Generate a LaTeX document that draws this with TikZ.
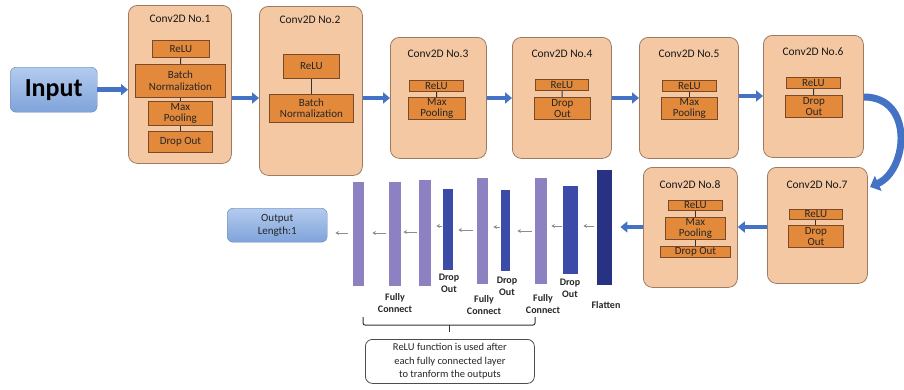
\documentclass[tikz,border=0pt]{standalone}
\usepackage{fontspec}
\setmainfont{Carlito}
\usetikzlibrary{arrows.meta,shapes.misc}
\definecolor{peach}{HTML}{F5C8A4}
\definecolor{peachdraw}{HTML}{9C7B62}
\definecolor{orng}{HTML}{E2893B}
\definecolor{orngdraw}{HTML}{7A4A28}
\definecolor{arrblue}{HTML}{4472C4}
\definecolor{inblueA}{HTML}{B4CBEE}
\definecolor{inblueB}{HTML}{7FA3DA}
\definecolor{fccol}{HTML}{8E81C2}
\definecolor{docol}{HTML}{3C4BA8}
\definecolor{flcol}{HTML}{273282}
\tikzset{
  bigbox/.style={draw=peachdraw, fill=peach, rounded corners=9pt, line width=0.8pt, anchor=north west, inner sep=0pt},
  ttl/.style={font=\fontsize{11.5}{12}\selectfont, text=black!90},
  ibox/.style={draw=orngdraw, fill=orng, line width=0.8pt, anchor=north west, inner sep=0pt, align=center, font=\fontsize{11}{11.5}\selectfont, text=black!85},
  link/.style={line width=1pt, black!80},
  bigarrow/.style={draw=arrblue, line width=4.5pt, -{Triangle[length=7pt,width=11pt]}, arrblue},
  smallarrow/.style={draw=black!45, line width=1pt, -{Stealth[length=3.5pt,width=4pt]}},
  bar/.style={anchor=north west, inner sep=0pt, draw=none},
  lbl/.style={font=\bfseries\fontsize{10}{12}\selectfont, align=center, text=black!85},
  bluebox/.style={rounded corners=6pt, top color=inblueA, bottom color=inblueB, draw=inblueB!80!black, line width=0.4pt, anchor=north west, inner sep=0pt, align=center},
}
\begin{document}
\begin{tikzpicture}[x=1pt,y=-1pt]
\useasboundingbox (0,0) rectangle (904,389);

% Input
\node[bluebox, minimum width=87, minimum height=45, font=\bfseries\fontsize{26}{27}\selectfont] (in) at (10,67) {Input};

% Conv 1
\node[bigbox, minimum width=103, minimum height=158] (c1) at (128,5) {};
\node[ttl] (t1) at (180,19) {Conv2D No.1};
\node[ibox, minimum width=57, minimum height=17] (c1a) at (152,40) {ReLU};
\node[ibox, minimum width=90, minimum height=33] (c1b) at (135,64) {Batch\\Normalization};
\node[ibox, minimum width=64, minimum height=24] (c1c) at (148,101) {Max\\Pooling};
\node[ibox, minimum width=64, minimum height=21] (c1d) at (148,131) {Drop Out};
\draw[link] (c1a) -- (c1b);
\draw[link] (c1b) -- (c1c);
\draw[link] (c1c) -- (c1d);

% Conv 2
\node[bigbox, minimum width=103, minimum height=169] (c2) at (259,6) {};
\node[ttl] (t2) at (310,20) {Conv2D No.2};
\node[ibox, minimum width=56, minimum height=24] (c2a) at (283,54) {ReLU};
\node[ibox, minimum width=84, minimum height=28] (c2b) at (269,94) {Batch\\Normalization};
\draw[link] (c2a) -- (c2b);

% Conv 3
\node[bigbox, minimum width=96, minimum height=121] (c3) at (390,37) {};
\node[ttl] (t3) at (438,54) {Conv2D No.3};
\node[ibox, minimum width=54, minimum height=11] (c3a) at (409,80) {ReLU};
\node[ibox, minimum width=57, minimum height=22] (c3b) at (408,97) {Max\\Pooling};
\draw[link] (c3a) -- (c3b);

% Conv 4
\node[bigbox, minimum width=99, minimum height=121] (c4) at (512,37) {};
\node[ttl] (t4) at (562,54) {Conv2D No.4};
\node[ibox, minimum width=53, minimum height=11] (c4a) at (535,79) {ReLU};
\node[ibox, minimum width=56, minimum height=22] (c4b) at (534,97) {Drop\\Out};
\draw[link] (c4a) -- (c4b);

% Conv 5
\node[bigbox, minimum width=99, minimum height=121] (c5) at (639,37) {};
\node[ttl] (t5) at (689,54) {Conv2D No.5};
\node[ibox, minimum width=54, minimum height=11] (c5a) at (662,80) {ReLU};
\node[ibox, minimum width=56, minimum height=22] (c5b) at (661,97) {Max\\Pooling};
\draw[link] (c5a) -- (c5b);

% Conv 6
\node[bigbox, minimum width=100, minimum height=122] (c6) at (763,35) {};
\node[ttl] (t6) at (813,52) {Conv2D No.6};
\node[ibox, minimum width=54, minimum height=11] (c6a) at (786,77) {ReLU};
\node[ibox, minimum width=57, minimum height=22] (c6b) at (785,95) {Drop\\Out};
\draw[link] (c6a) -- (c6b);

% Conv 7
\node[bigbox, minimum width=100, minimum height=116] (c7) at (767,167) {};
\node[ttl] (t7) at (817,185) {Conv2D No.7};
\node[ibox, minimum width=53, minimum height=10] (c7a) at (789,209) {ReLU};
\node[ibox, minimum width=55, minimum height=22] (c7b) at (788,225) {Drop\\Out};
\draw[link] (c7a) -- (c7b);

% Conv 8
\node[bigbox, minimum width=94, minimum height=120] (c8) at (643,167) {};
\node[ttl] (t8) at (690,185) {Conv2D No.8};
\node[ibox, minimum width=54, minimum height=10] (c8a) at (668,200) {ReLU};
\node[ibox, minimum width=60, minimum height=22] (c8b) at (665,217) {Max\\Pooling};
\node[ibox, minimum width=70, minimum height=11] (c8c) at (660,246) {Drop Out};
\draw[link] (c8a) -- (c8b);
\draw[link] (c8b) -- (c8c);

% row coordinates
\coordinate (rb) at (0,98);
\coordinate (rc) at (0,96);
\coordinate (rd) at (0,227);

% big arrows
\draw[bigarrow] (in.east) -- (in.east -| c1.west);
\draw[bigarrow] (c1.east |- rb) -- (c2.west |- rb);
\draw[bigarrow] (c2.east |- rb) -- (c3.west |- rb);
\draw[bigarrow] (c3.east |- rb) -- (c4.west |- rb);
\draw[bigarrow] (c4.east |- rb) -- (c5.west |- rb);
\draw[bigarrow] (c5.east |- rc) -- (c6.west |- rc);
\coordinate (cs) at (864,97);
\coordinate (ce) at (870,187);
\draw[draw=arrblue, line width=7pt, -{Triangle[length=9pt,width=16pt]}, arrblue] (cs) .. controls (914,97) and (908,170) .. (ce);
\draw[bigarrow] (c7.west |- rd) -- (c8.east |- rd);

% bars
\node[bar, fill=flcol, minimum width=15, minimum height=115] (fl) at (597,170) {};
\node[bar, fill=docol, minimum width=15, minimum height=88] (do3) at (563,186) {};
\node[bar, fill=fccol, minimum width=12, minimum height=106] (fc3) at (535,178) {};
\node[bar, fill=docol, minimum width=9, minimum height=81] (do2) at (501,190) {};
\node[bar, fill=fccol, minimum width=11, minimum height=106] (fc2) at (477,178) {};
\node[bar, fill=docol, minimum width=10, minimum height=81] (do1) at (443,189) {};
\node[bar, fill=fccol, minimum width=12, minimum height=106] (fca) at (419,180) {};
\node[bar, fill=fccol, minimum width=12, minimum height=104] (fcb) at (389,182) {};
\node[bar, fill=fccol, minimum width=11, minimum height=104] (fcc) at (353,182) {};

\draw[bigarrow] (c8.west |- rd) -- ([xshift=8]fl.east |- rd);

% output
\node[bluebox, minimum width=100, minimum height=34, font=\fontsize{11}{13.5}\selectfont, text=black!85] (out) at (227,208) {Output\\Length:1};

% small arrows
\coordinate (s1) at (0,226);
\coordinate (s2) at (0,231);
\coordinate (s3) at (0,227);
\coordinate (s4) at (0,230);
\coordinate (s5) at (0,232);
\coordinate (s6) at (0,233);
\draw[smallarrow, shorten <=3, shorten >=5] (fl.west |- s1) -- (do3.east |- s1);
\draw[smallarrow, shorten <=1, shorten >=4] (do3.west |- s1) -- (fc3.east |- s1);
\draw[smallarrow, shorten <=3, shorten >=7] (fc3.west |- s2) -- (do2.east |- s2);
\draw[smallarrow, shorten <=1, shorten >=5] (do2.west |- s3) -- (fc2.east |- s3);
\draw[smallarrow, shorten <=4, shorten >=5] (fc2.west |- s4) -- (do1.east |- s4);
\draw[smallarrow, shorten <=1, shorten >=5] (do1.west |- s1) -- (fca.east |- s1);
\draw[smallarrow, shorten <=2, shorten >=2] (fca.west |- s5) -- (fcb.east |- s5);
\draw[smallarrow, shorten <=3, shorten >=8] (fcb.west |- s6) -- (fcc.east |- s6);
\draw[smallarrow, shorten <=5, shorten >=8] (fcc.west |- s6) -- (out.east |- s6);

% labels
\node[lbl] (lfl) at (606,305) {Flatten};
\node[lbl] (ld3) at (570,288) {Drop\\Out};
\node[lbl] (ld2) at (507,286) {Drop\\Out};
\node[lbl] (ld1) at (449,283) {Drop\\Out};
\node[lbl] (lf3) at (543,304) {Fully\\Connect};
\node[lbl] (lf2) at (484,305) {Fully\\Connect};
\node[lbl] (lf1) at (395,303) {Fully\\Connect};

% brace
\coordinate (bl) at (363,317);
\coordinate (br) at (535,317);
\node[draw=black!70, rounded corners=7pt, line width=0.8pt, minimum width=169, minimum height=44, anchor=north west, inner sep=0pt, align=center, font=\fontsize{10.5}{13.5}\selectfont, text=black!85] (note) at (365,339) {ReLU function is used after\\each fully connected layer\\to tranform the outputs};
\draw[black!80, line width=1pt, rounded corners=2pt] (bl) -- ++(0,8) -| (br);
\draw[black!80, line width=1pt] (note.north |- 0,325) -- (note.north |- 0,332);
\end{tikzpicture}
\end{document}
